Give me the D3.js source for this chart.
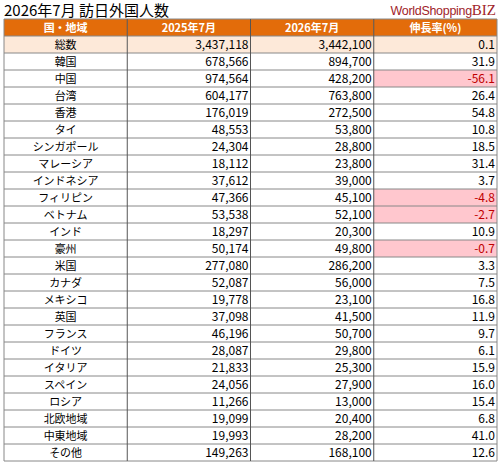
<!DOCTYPE html>
<html>
<head>
<meta charset="utf-8">
<script src="https://cdn.jsdelivr.net/npm/d3@7"></script>
<style>
body { margin: 0; background: #fff; }
text { font-family: 'Noto Sans CJK JP', sans-serif; }
</style>
</head>
<body>
<div id="chart"></div>
<script>
const headers = ['国・地域', '2025年7月', '2026年7月', '伸長率(%)']
const regions = ['総数', '韓国', '中国', '台湾', '香港', 'タイ', 'シンガポール', 'マレーシア', 'インドネシア', 'フィリピン', 'ベトナム', 'インド', '豪州', '米国', 'カナダ', 'メキシコ', '英国', 'フランス', 'ドイツ', 'イタリア', 'スペイン', 'ロシア', '北欧地域', '中東地域', 'その他']
const visitors2025 = [3437118, 678566, 974564, 604177, 176019, 48553, 24304, 18112, 37612, 47366, 53538, 18297, 50174, 277080, 52087, 19778, 37098, 46196, 28087, 21833, 24056, 11266, 19099, 19993, 149263]
const visitors2026 = [3442100, 894700, 428200, 763800, 272500, 53800, 28800, 23800, 39000, 45100, 52100, 20300, 49800, 286200, 56000, 23100, 41500, 50700, 29800, 25300, 27900, 13000, 20400, 28200, 168100]
const growth = [0.1, 31.9, -56.1, 26.4, 54.8, 10.8, 18.5, 31.4, 3.7, -4.8, -2.7, 10.9, -0.7, 3.3, 7.5, 16.8, 11.9, 9.7, 6.1, 15.9, 16.0, 15.4, 6.8, 41.0, 12.6]

const width = 501, height = 465
const svg = d3.select('#chart').append('svg').attr('width', width).attr('height', height)

const x = d3.scaleBand().domain(d3.range(4)).range([4, 497])
const y = d3.scaleBand().domain(d3.range(regions.length + 1)).range([19, 461])
const fmt = d3.format(',')

svg.append('text').attr('x', 4).attr('y', 16).attr('font-size', 15).text('2026年7月 訪日外国人数')
const logo = svg.append('text').attr('x', 496).attr('y', 15).attr('text-anchor', 'end')
logo.append('tspan').attr('font-size', 12.5).attr('fill', '#a0232a').attr('font-family', 'Liberation Sans').attr('letter-spacing', -0.3).text('WorldShopping')
logo.append('tspan').attr('font-size', 15).attr('fill', '#a0232a').attr('font-family', 'Liberation Serif').text('BIZ')

// header
headers.forEach((h, i) => {
  svg.append('rect').attr('x', x(i)).attr('y', y(0)).attr('width', x.bandwidth()).attr('height', y.bandwidth()).attr('fill', '#e36c0a')
  svg.append('text').attr('x', x(i) + x.bandwidth() / 2).attr('y', y(0) + y.bandwidth() / 2 + 4)
    .attr('text-anchor', 'middle').attr('font-size', 11).attr('font-weight', 'bold').attr('fill', '#fff').text(h)
})

const rows = regions.map((r, i) => ({ r, a: visitors2025[i], b: visitors2026[i], g: growth[i], i }))
const row = svg.selectAll('.row').data(rows).enter().append('g').attr('transform', d => `translate(0,${y(d.i + 1)})`)

row.each(function (d) {
  const g = d3.select(this)
  const cells = [d.r, fmt(d.a), fmt(d.b), d.g.toFixed(1)]
  cells.forEach((c, j) => {
    let fill = d.i === 0 ? '#fde9d9' : '#fff'
    if (j === 3 && d.g < 0) fill = '#ffc7ce'
    g.append('rect').attr('x', x(j)).attr('y', 0).attr('width', x.bandwidth()).attr('height', y.bandwidth()).attr('fill', fill)
    g.append('text')
      .attr('x', j === 0 ? x(j) + x.bandwidth() / 2 : x(j) + x.bandwidth() - 2)
      .attr('y', y.bandwidth() / 2 + 4.5)
      .attr('text-anchor', j === 0 ? 'middle' : 'end')
      .attr('font-size', j === 0 ? 11 : 12)
      .attr('font-family', j === 0 ? null : 'Liberation Sans')
      .attr('fill', j === 3 && d.g < 0 ? '#c00000' : '#000')
      .text(c)
  })
})

// grid lines
svg.selectAll('.hline').data(d3.range(regions.length + 2)).enter().append('line')
  .attr('x1', 4).attr('x2', 497)
  .attr('y1', d => d <= regions.length ? y(d) : 461).attr('y2', d => d <= regions.length ? y(d) : 461)
  .attr('stroke', '#888').attr('stroke-width', 1)
svg.selectAll('.vline').data(d3.range(5)).enter().append('line')
  .attr('y1', y(0)).attr('y2', 461)
  .attr('x1', d => d < 4 ? x(d) : 497).attr('x2', d => d < 4 ? x(d) : 497)
  .attr('stroke', d => d === 0 || d === 4 ? '#888' : '#555').attr('stroke-width', 1)
</script>
</body>
</html>
